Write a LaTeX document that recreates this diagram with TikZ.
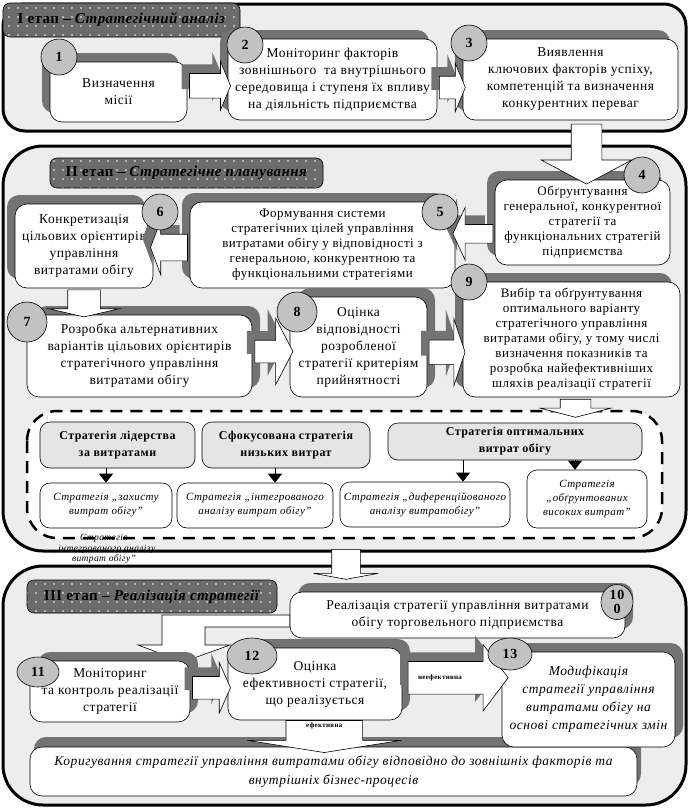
\documentclass[tikz,border=0pt]{standalone}
\usepackage{fontspec}
\setmainfont{Liberation Serif}[LetterSpace=4]
\usetikzlibrary{calc,shapes.arrows,shapes.geometric,shadows,arrows.meta,patterns.meta}

\definecolor{framebg}{gray}{0.93}
\definecolor{shade}{gray}{0.45}
\definecolor{discgray}{gray}{0.76}
\definecolor{titlebg}{gray}{0.42}
\definecolor{headbg}{gray}{0.9}

\tikzset{
  stageframe/.style={draw=black, line width=3pt, fill=framebg},
  stagetitle/.style={draw=black, rounded corners=7pt, preaction={fill=titlebg},
    pattern={Dots[distance=9pt,radius=0.8pt]}, pattern color=white,
    font=\fontsize{15}{17}\selectfont\bfseries\addfontfeature{LetterSpace=3}, inner sep=0pt},
  stagebox/.style={draw=black, fill=white, rounded corners=12pt, align=center,
    inner sep=1pt, font=\fontsize{13.5}{17}\selectfont},
  smallbox/.style={stagebox, font=\fontsize{13}{15}\selectfont},
  shadowL/.style={drop shadow={shadow xshift=-8pt, shadow yshift=9pt, fill=shade, opacity=1}},
  shadowR/.style={drop shadow={shadow xshift=8pt, shadow yshift=9pt, fill=shade, opacity=1}},
  disc/.style={circle, draw=black, fill=discgray, inner sep=0pt, minimum size=36pt,
    font=\fontsize{14}{14}\selectfont\bfseries},
  oval/.style={disc, ellipse},
  blockarrow/.style={single arrow, draw=black, fill=white, inner xsep=0pt,
    text height=0pt, text depth=0pt, single arrow head indent=0pt},
  barrow/.style n args={4}{blockarrow, minimum height=#1, inner ysep=#2,
    single arrow head extend=#3, single arrow tip angle=#4},
  headbox/.style={draw=black, fill=headbg, rounded corners=10pt, align=center,
    font=\fontsize{12}{17}\selectfont\bfseries},
  stratbox/.style={draw=black, fill=white, rounded corners=10pt, align=center,
    font=\fontsize{11}{14}\selectfont\itshape},
  tri/.style={-{Triangle[width=14pt,length=9pt]}, line width=0.8pt},
  tag/.style={font=\fontsize{7}{8}\selectfont\bfseries}
}

\begin{document}
\begin{tikzpicture}[x=1pt, y=-1pt, semithick]
  \useasboundingbox (0,0) rectangle (691,809);

  % Stage frames
  \draw[stageframe, rounded corners=22pt] (3,4) rectangle (686,131);
  \draw[stageframe, rounded corners=40pt] (3,146) rectangle (686,551);
  \draw[stageframe, rounded corners=40pt] (3,566) rectangle (686,805);

  % Stage I
  \node[stagetitle, minimum width=237pt, minimum height=34pt] (t1) at (121.5,20)
    {I етап – \textit{Стратегічний аналіз}};
  \node[stagebox, shadowL, minimum width=137pt, minimum height=60pt] (b1) at (118.5,92)
    {Визначення\\місії};
  \node[stagebox, shadowL, minimum width=209pt, minimum height=81pt] (b2) at (332.5,79.5)
    {Моніторинг факторів\\зовнішнього \ та внутрішнього\\середовища і ступеня їх впливу\\на діяльність підприємства};
  \node[stagebox, shadowL, minimum width=215pt, minimum height=81pt] (b3) at (570.5,79.5)
    {Виявлення\\ключових факторів успіху,\\компетенцій та визначення\\конкурентних переваг};
  \node[barrow={41pt}{12pt}{12pt}{135}, shadowL] (a12) at ($(b1.east)!.5!(b2.west)$) {};
  \node[barrow={26pt}{11pt}{13pt}{135}, shadowL, yshift=-8pt] (a23) at ($(b2.east)!.5!(b3.west)$) {};

  % Stage II
  \node[stagetitle, minimum width=273pt, minimum height=30pt] (t2) at (186.5,173)
    {II етап – \textit{Стратегічне планування}};
  \node[smallbox, shadowL, minimum width=175pt, minimum height=85pt] (b4) at (582.5,222.5)
    {Обґрунтування\\генеральної, конкурентної\\стратегії та\\функціональних стратегій\\підприємства};
  \node[smallbox, shadowL, minimum width=265pt, minimum height=86pt] (b5) at (322.5,245)
    {Формування системи\\стратегічних цілей управління\\витратами обігу у відповідності з\\генеральною, конкурентною та\\функціональними стратегіями};
  \node[stagebox, shadowL, minimum width=138pt, minimum height=84pt] (b6) at (84,246)
    {Конкретизація\\цільових орієнтирів\\управління\\витратами обігу};
  \node[stagebox, shadowR, minimum width=225pt, minimum height=82pt] (b7) at (139.5,356)
    {Розробка альтернативних\\варіантів цільових орієнтирів\\стратегічного управління\\витратами обігу};
  \node[stagebox, shadowR, minimum width=137pt, minimum height=100pt] (b8) at (358.5,347)
    {Оцінка\\відповідності\\розробленої\\стратегії критеріям\\прийнятності};
  \node[smallbox, shadowL, minimum width=217pt, minimum height=115pt] (b9) at (571.5,339.5)
    {Вибір та обґрунтування\\оптимального варіанту\\стратегічного управління\\витратами обігу, у тому числі\\визначення показників та\\розробка найефективніших\\шляхів реалізації стратегії};

  \node[barrow={60pt}{15pt}{30pt}{124}, xshift=10pt, rotate=-90] (a34) at ($(b3.south)!.5!(b4.north)$) {};
  \node[barrow={40pt}{9pt}{17pt}{130}, shape border rotate=180, shadowL] (a45) at ($(b4.west)!.5!(b5.east)$) {};
  \node[barrow={37pt}{13pt}{14pt}{139}, shape border rotate=180, shadowL, yshift=-2pt] (a56) at ($(b5.west)!.5!(b6.east)$) {};
  \node[barrow={27pt}{16pt}{19pt}{154}, rotate=-90] (a67) at ($(b6.south)!.5!(b6.south |- b7.north)$) {};
  \node[barrow={38pt}{11pt}{22pt}{125}, shadowL] (a78) at ($(b7.east)!.5!(b8.west)$) {};
  \node[barrow={36pt}{12pt}{21pt}{143}, shadowL, yshift=-9pt] (a89) at ($(b8.east)!.5!(b9.west)$) {};

  % Strategy alternatives
  \draw[dashed, line width=2.5pt, dash pattern=on 12pt off 8pt, fill=white, rounded corners=30pt]
    (27,411) rectangle (662,538);
  \node[barrow={18pt}{15pt}{20pt}{151}, rotate=-90] (a9d) at ($(b9.south)+(4,9)$) {};

  \node[headbox, minimum width=155pt, minimum height=46pt] (h1) at (117.5,445)
    {Стратегія лідерства\\за витратами};
  \node[headbox, minimum width=168pt, minimum height=46pt] (h2) at (286,445)
    {Сфокусована стратегія\\низьких витрат};
  \node[headbox, minimum width=254pt, minimum height=37pt] (h3) at (515,441.5)
    {Стратегія оптимальних\\витрат обігу};
  \node[stratbox, minimum width=132pt, minimum height=45pt] (s1) at (106,505.5)
    {Стратегія „захисту\\витрат обігу”};
  \node[stratbox, minimum width=156pt, minimum height=45pt] (s2) at (255,505.5)
    {Стратегія „інтегрованого\\аналізу витрат обігу”};
  \node[stratbox, minimum width=170pt, minimum height=45pt] (s3) at (425,504.5)
    {Стратегія „диференційованого\\аналізу витратобігу”};
  \node[stratbox, minimum width=120pt, minimum height=58pt] (s4) at (587,499)
    {Стратегія\\„обґрунтованих\\високих витрат”};
  \draw[tri] (s1.north |- h1.south) -- (s1.north);
  \draw[tri] ([xshift=-11pt]h2.south) -- ([xshift=-11pt]h2.south |- s2.north);
  \draw[tri] ([xshift=-52pt]h3.south) -- ([xshift=-52pt]h3.south |- s3.north);
  \draw[tri] ([xshift=60pt]h3.south) -- ([xshift=60pt]h3.south |- s4.north);
  \node[font=\fontsize{9.5}{10.5}\selectfont\itshape, align=center] (spill) at (104,549)
    {Стратегія\\„інтегрованого аналізу\\витрат обігу”};

  % Stage III
  \node[barrow={30pt}{14pt}{18pt}{159}, rotate=-90] (a2to3) at (346,563) {};
  % bent arrow out of block 10
  \draw[fill=white] (290,615) -- (162,615) -- (162,645) -- (138,645) -- (183,662)
    -- (230,645) -- (205,645) -- (205,627) -- (290,627) -- cycle;
  \node[stagetitle, minimum width=250pt, minimum height=33pt] (t3) at (152,596.5)
    {III етап – \textit{Реалізація стратегії}};
  \node[stagebox, shadowR, minimum width=335pt, minimum height=46pt] (b10) at (457.5,615)
    {Реалізація стратегії управління витратами\\обігу торговельного підприємства};
  \node[stagebox, shadowR, minimum width=160pt, minimum height=61pt] (b11) at (110,691.5)
    {Моніторинг\\та контроль реалізації\\стратегії};
  \node[stagebox, shadowR, minimum width=174pt, minimum height=72pt] (b12) at (315,684)
    {Оцінка\\ефективності стратегії,\\що реалізується};
  \node[stagebox, drop shadow={shadow xshift=4pt, shadow yshift=10pt, fill=shade, opacity=1},
    font=\fontsize{13.5}{19}\selectfont\itshape, minimum width=607pt, minimum height=49pt] (b14) at (333.5,771.5)
    {Коригування стратегії управління витратами обігу відповідно до зовнішніх факторів та\\внутрішніх бізнес-процесів};
  \node[stagebox, shadowR, font=\fontsize{13.5}{18}\selectfont\itshape,
    minimum width=173pt, minimum height=95pt] (b13) at (588.5,699.5)
    {Модифікація\\стратегії управління\\витратами обігу на\\основі стратегічних змін};
  \node[barrow={38pt}{11pt}{14pt}{132}, shadowL] (a1112) at ($(b11.east)!.5!(b12.west)$) {};
  \node[barrow={100pt}{16pt}{17pt}{106}, shadowL, yshift=14pt] (a1213) at ($(b12.east)!.5!(b13.west)$) {};
  \node[tag] at ($(a1213)+(-12,0)$) {неефективна};
  \node[barrow={32pt}{38pt}{39pt}{162}, rotate=-90] (a12b) at ($(b12.south)!.5!(b14.north)$) {};
  \node[tag] at ($(a12b)+(0,-8)$) {ефективна};

  % Step numbers
  \node[disc] (c1) at (59,57) {1};
  \node[disc] (c2) at (245,45) {2};
  \node[disc] (c3) at (469,43) {3};
  \node[disc] (c4) at (642,175) {4};
  \node[disc] (c5) at (440,212) {5};
  \node[disc] (c6) at (160,212) {6};
  \node[disc, minimum size=40pt] (c7) at (27,322) {7};
  \node[disc, minimum size=40pt] (c8) at (297,312) {8};
  \node[disc] (c9) at (469,282) {9};
  \node[oval, minimum width=32pt, minimum height=35pt, align=center,
    font=\fontsize{14}{14}\selectfont\bfseries] (c10) at (617,602) {10\\0};
  \node[oval, minimum width=42pt, minimum height=30pt] (c11) at (38,672) {11};
  \node[oval, minimum width=50pt, minimum height=36pt] (c12) at (252,656) {12};
  \node[oval, minimum width=44pt, minimum height=32pt] (c13) at (510,654) {13};
\end{tikzpicture}
\end{document}
